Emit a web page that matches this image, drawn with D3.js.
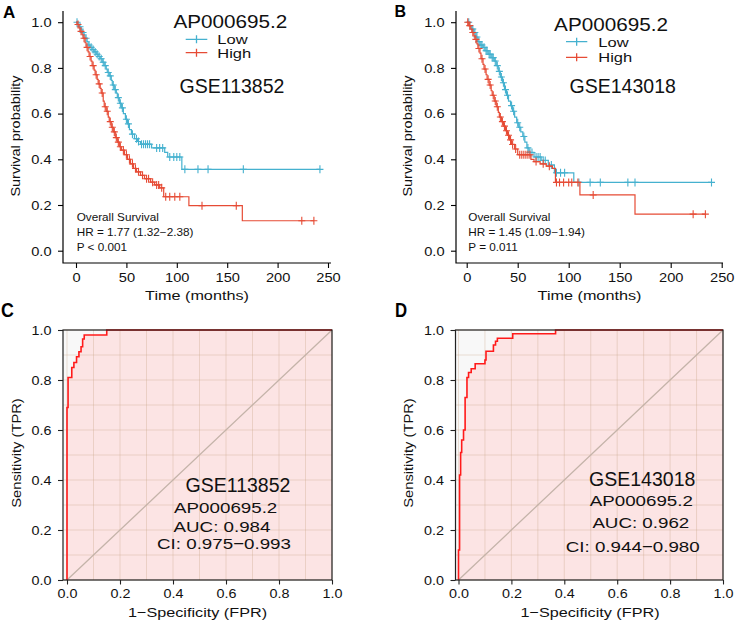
<!DOCTYPE html>
<html><head><meta charset="utf-8">
<script src="https://cdn.jsdelivr.net/npm/d3@7/dist/d3.min.js"></script>
<style>body{margin:0;background:#fff} text{font-family:"Liberation Sans",Arial,sans-serif}</style>
</head><body><svg id="c" width="735" height="625"></svg>
<script>
// ---------------- data ----------------
const kmTimeTicks = [0, 50, 100, 150, 200, 250];
const kmSurvTicks = [0, 0.2, 0.4, 0.6, 0.8, 1.0];
const rocTicks = [0, 0.2, 0.4, 0.6, 0.8, 1.0];
const rocGridLines = [0, 0.1, 0.2, 0.3, 0.4, 0.5, 0.6, 0.7, 0.8, 0.9, 1.0];
const groupNames = ["Low", "High"];
const geneName = "AP000695.2";
const datasetNames = ["GSE113852", "GSE143018"];
const panelLetters = ["A", "B", "C", "D"];

// Panel A (GSE113852) Kaplan-Meier
const lowTimeA = [0, 2, 3, 5, 6, 8, 9, 11, 12, 14, 16, 18, 20, 22, 24, 26, 28, 30, 31, 33, 35, 36, 38, 40, 41, 43, 45, 47, 49, 51, 53, 55, 58, 61, 64, 75, 88, 91, 105];
const lowSurvA = [1, 0.99, 0.98, 0.97, 0.955, 0.945, 0.93, 0.915, 0.9, 0.89, 0.88, 0.87, 0.86, 0.85, 0.84, 0.825, 0.81, 0.795, 0.78, 0.765, 0.745, 0.725, 0.705, 0.69, 0.67, 0.645, 0.625, 0.6, 0.575, 0.555, 0.53, 0.51, 0.49, 0.478, 0.466, 0.45, 0.43, 0.41, 0.356];
const lowCensorA = [1, 4, 7, 10, 13, 15, 17, 19, 21, 23, 25, 27, 29, 32, 34, 37, 39, 42, 44, 46, 50, 52, 56, 60, 62, 65, 67, 69, 71, 73, 80, 83, 86, 93, 97, 100, 103, 108, 121, 131, 166, 242];
const highTimeA = [0, 1, 3, 4, 6, 7, 9, 10, 12, 13, 15, 16, 18, 19, 21, 22, 24, 25, 27, 28, 30, 32, 33, 35, 37, 39, 41, 43, 45, 48, 51, 54, 57, 60, 64, 68, 74, 78, 83, 87, 112, 165];
const highSurvA = [1, 0.99, 0.975, 0.96, 0.945, 0.93, 0.91, 0.89, 0.87, 0.85, 0.83, 0.81, 0.79, 0.77, 0.75, 0.73, 0.71, 0.69, 0.655, 0.63, 0.61, 0.585, 0.565, 0.54, 0.52, 0.495, 0.475, 0.455, 0.44, 0.42, 0.4, 0.38, 0.36, 0.345, 0.33, 0.315, 0.3, 0.288, 0.275, 0.236, 0.197, 0.131];
const highCensorA = [2, 5, 8, 11, 14, 17, 20, 23, 26, 29, 31, 34, 36, 38, 40, 42, 44, 47, 50, 53, 56, 59, 62, 66, 70, 72, 76, 80, 82, 85, 89, 93, 98, 103, 125, 159, 224, 236];
const statsA = ["Overall Survival", "HR = 1.77 (1.32\u22122.38)", "P < 0.001"];

// Panel B (GSE143018) Kaplan-Meier
const lowTimeB = [0, 3, 5, 7, 9, 11, 13, 16, 18, 21, 24, 27, 29, 31, 33, 35, 37, 39, 41, 43, 45, 47, 49, 51, 53, 55, 57, 59, 61, 66, 73, 80, 86, 105];
const lowSurvB = [1, 0.985, 0.97, 0.955, 0.935, 0.915, 0.9, 0.89, 0.875, 0.86, 0.845, 0.83, 0.81, 0.785, 0.76, 0.735, 0.705, 0.68, 0.655, 0.635, 0.61, 0.585, 0.56, 0.54, 0.52, 0.5, 0.475, 0.45, 0.43, 0.41, 0.395, 0.375, 0.341, 0.299];
const lowCensorB = [2, 6, 8, 10, 12, 14, 15, 17, 19, 20, 22, 23, 25, 26, 28, 30, 32, 34, 36, 38, 40, 44, 46, 50, 52, 56, 60, 62, 64, 68, 70, 72, 75, 77, 83, 88, 92, 96, 110, 121, 131, 158, 165, 240];
const highTimeB = [0, 2, 4, 5, 7, 8, 10, 11, 13, 14, 16, 17, 19, 20, 22, 24, 25, 27, 29, 31, 32, 34, 36, 38, 40, 42, 44, 47, 50, 63, 66, 72, 78, 84, 87, 111, 165];
const highSurvB = [1, 0.985, 0.97, 0.955, 0.94, 0.925, 0.905, 0.885, 0.865, 0.84, 0.815, 0.795, 0.77, 0.75, 0.725, 0.7, 0.68, 0.655, 0.63, 0.605, 0.585, 0.565, 0.545, 0.525, 0.505, 0.485, 0.465, 0.445, 0.42, 0.4, 0.39, 0.38, 0.37, 0.36, 0.299, 0.244, 0.16];
const highCensorB = [1, 3, 6, 9, 12, 15, 18, 21, 23, 26, 28, 30, 33, 35, 37, 39, 41, 43, 45, 48, 52, 54, 56, 58, 60, 62, 68, 75, 81, 88, 91, 95, 100, 103, 109, 124, 222, 234];
const statsB = ["Overall Survival", "HR = 1.45 (1.09\u22121.94)", "P = 0.011"];

// Panel C ROC (GSE113852)
const rocFprC = [0, 0, 0.004, 0.004, 0.018, 0.018, 0.026, 0.026, 0.036, 0.036, 0.045, 0.045, 0.053, 0.053, 0.059, 0.059, 0.065, 0.065, 0.15, 0.15, 1.0];
const rocTprC = [0, 0.69, 0.69, 0.81, 0.81, 0.85, 0.85, 0.87, 0.87, 0.893, 0.893, 0.913, 0.913, 0.933, 0.933, 0.964, 0.964, 0.98, 0.98, 1.0, 1.0];
const rocLabelsC = ["AUC: 0.984", "CI: 0.975\u22120.993"];

// Panel D ROC (GSE143018)
const rocFprD = [0, 0, 0.004, 0.004, 0.008, 0.008, 0.012, 0.012, 0.019, 0.019, 0.025, 0.025, 0.032, 0.032, 0.038, 0.038, 0.048, 0.048, 0.063, 0.063, 0.072, 0.072, 0.1, 0.1, 0.104, 0.104, 0.132, 0.132, 0.14, 0.14, 0.147, 0.147, 0.205, 0.205, 0.367, 0.367, 1.0];
const rocTprD = [0, 0.12, 0.12, 0.42, 0.42, 0.51, 0.51, 0.56, 0.56, 0.6, 0.6, 0.73, 0.73, 0.81, 0.81, 0.83, 0.83, 0.845, 0.845, 0.865, 0.865, 0.865, 0.865, 0.88, 0.88, 0.915, 0.915, 0.94, 0.94, 0.955, 0.955, 0.967, 0.967, 0.985, 0.985, 1.0, 1.0];
const rocLabelsD = ["AUC: 0.962", "CI: 0.944\u22120.980"];

// ---------------- drawing ----------------
const BLUE = "#45B1CF", RED = "#E64B35";
const svg = d3.select("#c");

function txt(g, x, y, s, o) {
  o = o || {};
  const t = g.append("text")
    .attr("transform", `translate(${x},${y})${o.rot ? ` rotate(${o.rot})` : ""} scale(${o.sx || 1},1)`)
    .attr("font-size", o.size || 12)
    .attr("text-anchor", o.anchor || "start")
    .attr("fill", o.fill || "#000")
    .text(s);
  if (o.weight) t.attr("font-weight", o.weight);
  return t;
}

function survAt(times, survs, t) {
  let s = survs[0];
  for (let i = 0; i < times.length; i++) if (times[i] <= t) s = survs[i];
  return s;
}

function kmPanel(c) {
  const g = svg.append("g");
  const x = d3.scaleLinear().domain([0, 250]).range([c.x0, c.x250]);
  const y = d3.scaleLinear().domain([0, 1]).range([250.7, 22.2]);
  const sx = 1.22;
  // axes
  const xa = g.append("g").attr("transform", "translate(0,263)")
    .call(d3.axisBottom(x).tickValues(kmTimeTicks).tickSize(5).tickSizeOuter(0));
  xa.select(".domain").remove();
  xa.selectAll("line").attr("stroke", "#000").attr("stroke-width", 1.1);
  xa.selectAll("text").attr("y", 18.7).attr("dy", 0).attr("font-size", 12)
    .attr("font-family", "Liberation Sans, Arial, sans-serif").attr("fill", "#111")
    .attr("transform", `scale(${sx},1)`);
  const ya = g.append("g").attr("transform", `translate(${c.axL},0)`)
    .call(d3.axisLeft(y).tickValues(kmSurvTicks).tickFormat(d3.format(".1f")).tickSize(5).tickSizeOuter(0));
  ya.select(".domain").remove();
  ya.selectAll("line").attr("stroke", "#000").attr("stroke-width", 1.1);
  ya.selectAll("text").attr("x", -11.5 / sx).attr("dy", "0.36em").attr("font-size", 12)
    .attr("font-family", "Liberation Sans, Arial, sans-serif").attr("fill", "#111")
    .attr("transform", `scale(${sx},1)`);
  g.append("path").attr("d", `M${c.axL},11V263H${c.axR}`).attr("fill", "none")
    .attr("stroke", "#000").attr("stroke-width", 1.2);

  // curves
  const line = d3.line().x(d => x(d[0])).y(d => y(d[1])).curve(d3.curveStepAfter);
  c.series.forEach(s => {
    const pts = s.times.map((t, i) => [t, s.survs[i]]);
    const tEnd = d3.max(s.censor);
    pts.push([tEnd, s.survs[s.survs.length - 1]]);
    g.append("path").datum(pts).attr("d", line).attr("fill", "none")
      .attr("stroke", s.color).attr("stroke-width", 1.2);
    g.append("g").selectAll("path").data(s.censor).join("path")
      .attr("d", t => {
        const px = x(t), py = y(survAt(s.times, s.survs, t));
        return `M${px - 3.5},${py}H${px + 3.5}M${px},${py - 4}V${py + 4}`;
      })
      .attr("stroke", s.color).attr("stroke-width", 1.1).attr("fill", "none");
  });

  // legend
  txt(g, c.legCx, c.legTitleY, geneName, {size: 18, anchor: "middle", sx: 1.15, fill: "#111"});
  c.series.forEach((s, i) => {
    const ly = c.legLineY[i];
    g.append("path").attr("d", `M${c.legX1},${ly}H${c.legX2}M${(c.legX1 + c.legX2) / 2},${ly - 4}V${ly + 4}`)
      .attr("stroke", s.color).attr("stroke-width", 1.3).attr("fill", "none");
    txt(g, c.legTextX, c.legTextY[i], groupNames[i], {size: 13, sx: 1.27, fill: "#111"});
  });
  txt(g, c.dsCx, 93.3, c.dataset, {size: 19.5, anchor: "middle", fill: "#111"});

  // stats
  c.stats.forEach((s, i) => txt(g, c.statX, [220.7, 236, 251][i], s, {size: 10.2, sx: 1.15, fill: "#111"}));

  // titles
  txt(g, c.titleCx, 300, "Time (months)", {size: 13.5, anchor: "middle", sx: 1.2, fill: "#111"});
  txt(g, c.yTitleX, 136, "Survival probability", {size: 13.5, anchor: "middle", sx: 1.07, rot: -90, fill: "#111"});
}

function rocPanel(c) {
  const g = svg.append("g");
  const x = d3.scaleLinear().domain([0, 1]).range([c.x0, c.x1]);
  const y = d3.scaleLinear().domain([0, 1]).range([580, 330]);
  const boxW = c.x1 - c.boxL;
  g.append("rect").attr("x", c.boxL).attr("y", 330).attr("width", boxW).attr("height", 250).attr("fill", "#f8f8f8");
  const pts = c.fpr.map((f, i) => [f, c.tpr[i]]);
  g.append("path").datum(pts)
    .attr("d", d3.area().x(d => x(d[0])).y0(y(0)).y1(d => y(d[1])))
    .attr("fill", "#fce4e4");
  // grid
  g.append("g").selectAll("line").data(rocGridLines).join("line")
    .attr("x1", d => x(d)).attr("x2", d => x(d)).attr("y1", 330).attr("y2", 580)
    .attr("stroke", "rgba(200,165,135,0.33)").attr("stroke-width", 1);
  g.append("g").selectAll("line").data(rocGridLines).join("line")
    .attr("x1", c.boxL).attr("x2", c.x1).attr("y1", d => y(d)).attr("y2", d => y(d))
    .attr("stroke", "rgba(200,165,135,0.33)").attr("stroke-width", 1);
  // diagonal
  g.append("line").attr("x1", x(0)).attr("y1", y(0)).attr("x2", x(1)).attr("y2", y(1))
    .attr("stroke", "#c4b3a9").attr("stroke-width", 1.3);
  // roc curve
  g.append("path").datum(pts)
    .attr("d", d3.line().x(d => x(d[0])).y(d => y(d[1])))
    .attr("fill", "none").attr("stroke", "#ff1a1a").attr("stroke-width", 1.6);
  // box
  g.append("rect").attr("x", c.boxL).attr("y", 330).attr("width", boxW).attr("height", 250)
    .attr("fill", "none").attr("stroke", "#222").attr("stroke-width", 1.2);
  const sx = 1.15;
  const xa = g.append("g").attr("transform", "translate(0,580)")
    .call(d3.axisBottom(x).tickValues(rocTicks).tickFormat(d3.format(".1f")).tickSize(4.5).tickSizeOuter(0));
  xa.select(".domain").remove();
  xa.selectAll("line").attr("stroke", "#222").attr("stroke-width", 1.1);
  xa.selectAll("text").attr("y", 18).attr("dy", 0).attr("font-size", 12.5)
    .attr("font-family", "Liberation Sans, Arial, sans-serif").attr("fill", "#111")
    .attr("transform", `scale(${sx},1)`);
  const ya = g.append("g").attr("transform", `translate(${c.boxL},0)`)
    .call(d3.axisLeft(y).tickValues(rocTicks).tickFormat(d3.format(".1f")).tickSize(5).tickSizeOuter(0));
  ya.select(".domain").remove();
  ya.selectAll("line").attr("stroke", "#222").attr("stroke-width", 1.1);
  ya.selectAll("text").attr("x", -11.5 / sx).attr("dy", "0.36em").attr("font-size", 12.5)
    .attr("font-family", "Liberation Sans, Arial, sans-serif").attr("fill", "#111")
    .attr("transform", `scale(${sx},1)`);
  // labels
  txt(g, c.t0x, c.t0y, c.dataset, {size: 19.5, anchor: "middle", fill: "#111"});
  txt(g, c.t1x, c.t1y, geneName, {size: 15.5, anchor: "middle", sx: 1.21, fill: "#111"});
  txt(g, c.t2x, c.t2y, c.labels[0], {size: 15.5, anchor: "middle", sx: 1.21, fill: "#111"});
  txt(g, c.t3x, c.t3y, c.labels[1], {size: 15.5, anchor: "middle", sx: 1.21, fill: "#111"});
  txt(g, c.titleCx, 616.7, "1\u2212Specificity (FPR)", {size: 13.5, anchor: "middle", sx: 1.2, fill: "#111"});
  txt(g, c.yTitleX, 453, "Sensitivity (TPR)", {size: 13.5, anchor: "middle", sx: 1.09, rot: -90, fill: "#111"});
}

kmPanel({
  x0: 76, x250: 328, axL: 63, axR: 331, dataset: datasetNames[0], stats: statsA,
  series: [
    {times: lowTimeA, survs: lowSurvA, censor: lowCensorA, color: BLUE},
    {times: highTimeA, survs: highSurvA, censor: highCensorA, color: RED}
  ],
  legCx: 230.3, legTitleY: 28.2, legX1: 185.7, legX2: 207.3, legLineY: [39.3, 52.7],
  legTextX: 217.3, legTextY: [43.5, 57.5], dsCx: 232, statX: 76.7, titleCx: 197, yTitleX: 20
});
kmPanel({
  x0: 466.7, x250: 721.7, axL: 456, axR: 723, dataset: datasetNames[1], stats: statsB,
  series: [
    {times: lowTimeB, survs: lowSurvB, censor: lowCensorB, color: BLUE},
    {times: highTimeB, survs: highSurvB, censor: highCensorB, color: RED}
  ],
  legCx: 611, legTitleY: 31.2, legX1: 566, legX2: 587.3, legLineY: [41.7, 57.3],
  legTextX: 598.3, legTextY: [46.5, 61.5], dsCx: 622.7, statX: 468.3, titleCx: 589.5, yTitleX: 412
});
rocPanel({
  x0: 67, x1: 332, boxL: 63, fpr: rocFprC, tpr: rocTprC, dataset: datasetNames[0], labels: rocLabelsC,
  t0x: 238, t0y: 491.7, t1x: 225.7, t1y: 512.7, t2x: 222, t2y: 532, t3x: 224, t3y: 549,
  titleCx: 197.5, yTitleX: 21
});
rocPanel({
  x0: 458.5, x1: 723, boxL: 455.5, fpr: rocFprD, tpr: rocTprD, dataset: datasetNames[1], labels: rocLabelsD,
  t0x: 642.2, t0y: 486, t1x: 641.3, t1y: 506, t2x: 640.8, t2y: 528.3, t3x: 632.7, t3y: 551.7,
  titleCx: 590, yTitleX: 413
});

// panel letters
txt(svg, 3, 18.3, panelLetters[0], {size: 17, weight: "bold"});
txt(svg, 394.5, 16.7, panelLetters[1], {size: 16, weight: "bold"});
txt(svg, 1, 317, panelLetters[2], {size: 21, weight: "bold", sx: 0.85});
txt(svg, 395, 317, panelLetters[3], {size: 21, weight: "bold", sx: 0.8});
</script></body></html>
